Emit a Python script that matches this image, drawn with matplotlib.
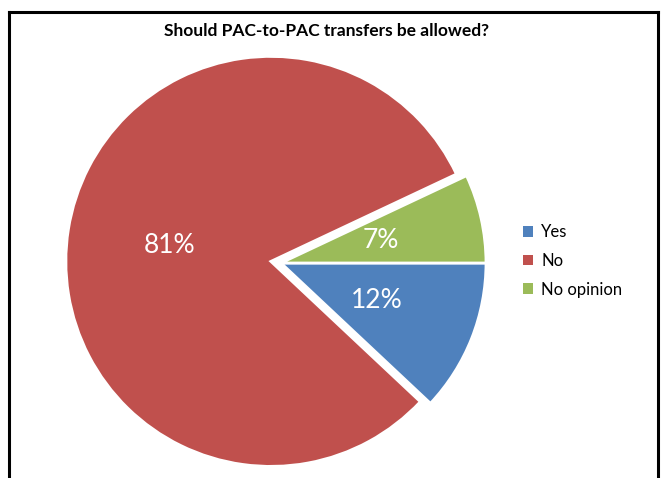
import matplotlib
matplotlib.use('Agg')
import matplotlib.pyplot as plt
from matplotlib.patches import Patch
from matplotlib.lines import Line2D

plt.rcParams['font.family'] = ['Lato', 'DejaVu Sans']

labels = ['Yes', 'No', 'No opinion']
shares = [12, 81, 7]
colors = ['#4F81BD', '#C0504D', '#9BBB59']
title = 'Should PAC-to-PAC transfers be allowed?'

W, H = 662, 478
fig = plt.figure(figsize=(W / 100, H / 100), dpi=100)

# pie placed so its centre sits at (281, 263) px with radius 205 px
cx, cy, r = 281, 263, 205
lim = 1.15
half = lim * r
ax = fig.add_axes([(cx - half) / W, (H - cy - half) / H, 2 * half / W, 2 * half / H])

wedges, texts, autotexts = ax.pie(
    shares, colors=colors, startangle=0, counterclock=False,
    explode=[0, 0.05, 0], autopct=lambda p: f'{p:.0f}%', pctdistance=0.5,
    wedgeprops=dict(edgecolor='white', linewidth=2),
    textprops=dict(color='white', fontsize=19))
ax.set_xlim(-lim, lim)
ax.set_ylim(-lim, lim)
ax.axis('off')

fig.text(327 / W, 1 - 31 / H, title, ha='center', va='center',
         fontsize=12.5, fontweight='bold')

handles = [Patch(facecolor=c, edgecolor='none') for c in colors]
fig.legend(handles, labels, loc='center left',
           bbox_to_anchor=(523 / W, 1 - 261 / H), frameon=False,
           fontsize=12, handlelength=0.6, handleheight=0.6,
           handletextpad=0.5, labelspacing=0.75, borderpad=0, borderaxespad=0)

# chart frame (bottom edge falls outside the picture)
for xs, ys in [([9, 9], [478, 12]), ([9, 658], [12, 12]), ([658, 658], [12, 478])]:
    fig.add_artist(Line2D([x / W for x in xs], [1 - y / H for y in ys],
                          color='black', linewidth=2.2))

fig.savefig('out.png', dpi=100)
